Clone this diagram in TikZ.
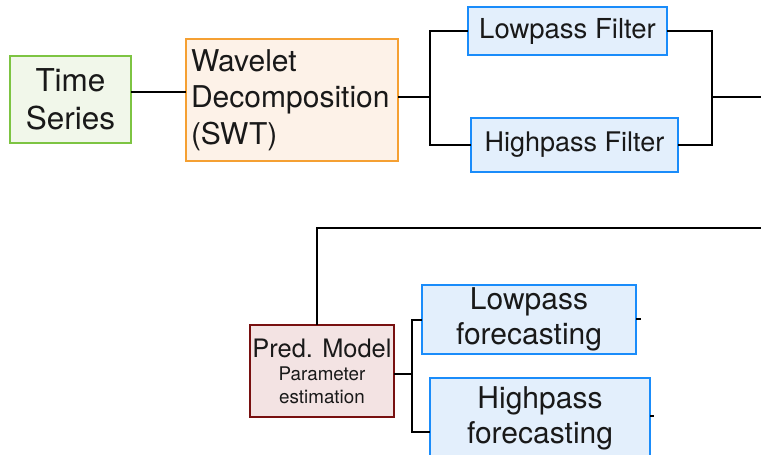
\documentclass[tikz,border=0pt]{standalone}
\usepackage{fontspec}
\setmainfont{TeX Gyre Heros}
\begin{document}
\begin{tikzpicture}[x=1pt,y=-1pt,
  box/.style={draw, line width=2pt, inner sep=0pt, align=center, text=black!90},
  green/.style={box, draw={rgb,255:red,125;green,196;blue,66}, fill={rgb,255:red,241;green,247;blue,234}},
  orange/.style={box, draw={rgb,255:red,245;green,160;blue,50}, fill={rgb,255:red,253;green,242;blue,232}},
  blue/.style={box, draw={rgb,255:red,26;green,140;blue,250}, fill={rgb,255:red,227;green,239;blue,252}},
  red/.style={box, draw={rgb,255:red,120;green,16;blue,16}, fill={rgb,255:red,243;green,227;blue,227}},
  conn/.style={line width=2pt, line cap=rect}
]
\useasboundingbox (0,0) rectangle (761,455);
\node[green, minimum width=121, minimum height=87, font=\fontsize{31.5}{38}\selectfont] (ts) at (70.5,99.5) {Time\\Series};
\node[orange, minimum width=212, minimum height=122, text width=202, align=left, font=\fontsize{30}{36.5}\selectfont] (wd) at (292,100) {Wavelet\\Decomposition\\(SWT)};
\node[blue, minimum width=199, minimum height=48, font=\fontsize{27.5}{30}\selectfont] (lf) at (567.5,31) {Lowpass Filter};
\node[blue, minimum width=207, minimum height=54, font=\fontsize{27}{30}\selectfont] (hf) at (574.5,145) {Highpass Filter};
\node[red, minimum width=144, minimum height=92, font=\fontsize{25.4}{24}\selectfont] (pm) at (322,371) {Pred. Model\\[-1pt]{\fontsize{18.8}{21}\selectfont Parameter}\\[-1pt]{\fontsize{18.8}{21}\selectfont estimation}};
\node[blue, minimum width=214, minimum height=69, font=\fontsize{30}{35}\selectfont] (lfc) at (529,319.5) {Lowpass\\forecasting};
\node[blue, minimum width=220, minimum height=80, font=\fontsize{30}{35}\selectfont] (hfc) at (540,418) {Highpass\\forecasting};
\coordinate (out1) at (761,97);
\coordinate (in2) at (761,228);
\draw[conn] (ts.east |- 0,92) -- (wd.west |- 0,92);
\draw[conn] (wd.east |- 0,97) -- (430,97);
\draw[conn] (lf.west) -- (430,31) -- (430,145) -- (hf.west);
\draw[conn] (lf.east) -- (712,31) -- (712,145) -- (hf.east);
\draw[conn] (712,97) -- (out1);
\draw[conn] (in2) -- (317,228) -- (pm.north -| 317,0);
\draw[conn] (pm.east |- 0,374) -- (412,374);
\draw[conn] (lfc.west |- 0,320) -- (412,320) -- (412,432) -- (hfc.west |- 0,432);
\draw[conn] (lfc.east |- 0,319) -- ++(3,0);
\draw[conn] (hfc.east |- 0,416) -- ++(2,0);
\end{tikzpicture}
\end{document}
